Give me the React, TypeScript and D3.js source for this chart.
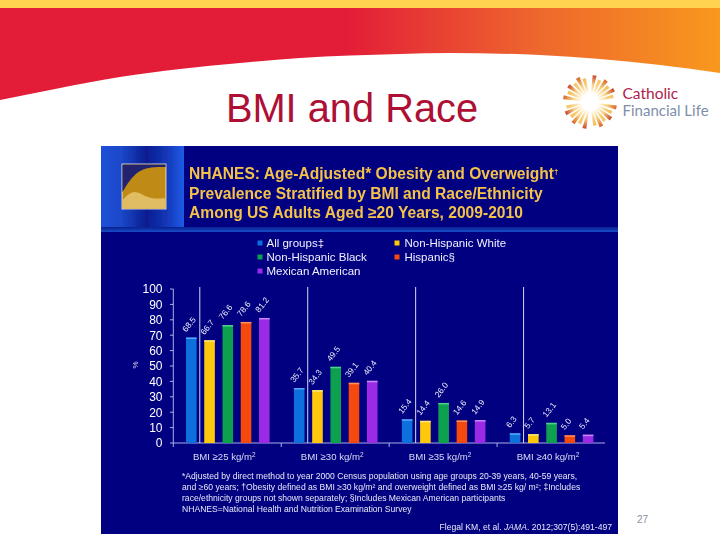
import React from "react";
import * as d3 from "d3";

const categories = ["BMI ≥25 kg/m", "BMI ≥30 kg/m", "BMI ≥35 kg/m", "BMI ≥40 kg/m"];
const seriesNames = ["All groups‡", "Non-Hispanic White", "Non-Hispanic Black", "Hispanic§", "Mexican American"];
const seriesColors = ["#0A6FDC", "#FFC80A", "#0CA050", "#F5480E", "#9A2AE6"];
const capColors = ["#55A8F5", "#FFE680", "#50D090", "#FF9060", "#C888FF"];
const allGroups = [68.5, 35.7, 15.4, 6.3];
const nhWhite = [66.7, 34.3, 14.4, 5.7];
const nhBlack = [76.6, 49.5, 26.0, 13.1];
const hispanic = [78.6, 39.1, 14.6, 5.0];
const mexican = [81.2, 40.4, 14.9, 5.4];
const valueRows = [allGroups, nhWhite, nhBlack, hispanic, mexican];
const valueText = [
  ["68.5", "35.7", "15.4", "6.3"],
  ["66.7", "34.3", "14.4", "5.7"],
  ["76.6", "49.5", "26.0", "13.1"],
  ["78.6", "39.1", "14.6", "5.0"],
  ["81.2", "40.4", "14.9", "5.4"],
];
const yTicks = [0, 10, 20, 30, 40, 50, 60, 70, 80, 90, 100];
const headingLines = [
  "NHANES: Age-Adjusted* Obesity and Overweight",
  "Prevalence Stratified by BMI and Race/Ethnicity",
  "Among US Adults Aged ≥20 Years, 2009-2010",
];
const footnotes = [
  "*Adjusted by direct method to year 2000 Census population using age groups 20-39 years, 40-59 years,",
  "and ≥60 years; †Obesity defined as BMI ≥30 kg/m² and overweight defined as BMI ≥25 kg/ m²; ‡Includes",
  "race/ethnicity groups not shown separately; §Includes Mexican American participants",
  "NHANES=National Health and Nutrition Examination Survey",
];
const curvePts: [number, number][] = [[0, 100], [60, 88], [120, 77], [180, 69], [240, 63], [300, 58], [400, 54], [450, 53], [540, 55], [600, 59], [660, 65], [720, 73]];
const rayAngles = [-80, -66, -53, -40, -27, -14, 10, 24, 37, 50, 63, 76, 102, 116, 129, 142, 155, 168, 192, 206, 219, 232, 245, 258];
const rayTips = ["#D9662A", "#F2B23C", "#C8452C", "#F6C050"];

const F = "'Liberation Sans', Arial, sans-serif";

export default function App() {
  const x = d3.scaleBand<string>().domain(categories).range([173.3, 605]);
  const y = d3.scaleLinear().domain([0, 100]).range([443, 289]);
  const inner = d3.scalePoint<string>().domain(seriesNames).range([18, 91]);
  const barW = 10.6;
  const curve = d3.line().curve(d3.curveMonotoneX)(curvePts)!;
  const wave = d3.line().curve(d3.curveBasis);
  const arc = d3.arc();
  return (
    <svg width={720} height={540} style={{ position: "absolute", left: 0, top: 0, display: "block" }} fontFamily={F}>
      <defs>
        <linearGradient id="band" x1="0" x2="1" y1="0" y2="0">
          <stop offset="0" stopColor="#E31C38" />
          <stop offset="0.48" stopColor="#E31C38" />
          <stop offset="0.75" stopColor="#EE682D" />
          <stop offset="1" stopColor="#F8981D" />
        </linearGradient>
        <linearGradient id="side" x1="0" x2="1" y1="0" y2="0">
          <stop offset="0" stopColor="#1C50D8" />
          <stop offset="0.25" stopColor="#1A48C8" />
          <stop offset="0.55" stopColor="#0A1C90" />
          <stop offset="0.8" stopColor="#1438B8" />
          <stop offset="1" stopColor="#1F5CE6" />
        </linearGradient>
        <linearGradient id="strip" x1="0" x2="0" y1="0" y2="1">
          <stop offset="0" stopColor="#082090" />
          <stop offset="1" stopColor="#1A4CC8" />
        </linearGradient>
        {rayTips.map((c, i) => (
          <radialGradient key={c} id={`ray${i}`} gradientUnits="userSpaceOnUse" cx="0" cy="0" r="27">
            <stop offset="0.35" stopColor="#FFF8E8" />
            <stop offset="0.65" stopColor="#F8D080" />
            <stop offset="1" stopColor={c} />
          </radialGradient>
        ))}
        <filter id="soft" x="-2%" y="-2%" width="104%" height="104%">
          <feGaussianBlur stdDeviation="0.5" />
        </filter>
      </defs>

      <rect width={720} height={540} fill="#fff" />
      <path d={`${curve}L720,0L0,0Z`} fill="url(#band)" />
      <rect width={720} height={8} fill="#FFD350" />
      <text x={352} y={122} textAnchor="middle" fontSize={39.8} fill="#AE1035">BMI and Race</text>

      <g transform="translate(590,102)">
        {rayAngles.map((a, i) => {
          const outer = i % 2 === 0 ? 27 : 24;
          const rad = (a * Math.PI) / 180;
          return (
            <path
              key={a}
              fill={`url(#ray${i % 4})`}
              d={arc({ innerRadius: 9, outerRadius: outer, startAngle: rad - 0.075, endAngle: rad + 0.075 } as any)!}
            />
          );
        })}
      </g>
      <text x={622.5} y={98.5} fontFamily="Lato, sans-serif" fontSize={15.5} fill="#B01C4C">Catholic</text>
      <text x={622.5} y={116} fontFamily="Lato, sans-serif" fontSize={15} fill="#7E8EAA">Financial Life</text>
      <text x={637} y={523} fontSize={10} fill="#8A8FA0">27</text>

      <rect x={101} y={146} width={517} height={388} fill="#000080" />
      <g filter="url(#soft)">
        <rect x={101} y={146} width={83} height={81} fill="url(#side)" />
        <rect x={101} y={227} width={517} height={5} fill="url(#strip)" />
        <rect x={122} y={164} width={44} height={45} fill="#C08A12" stroke="#F4F4F4" strokeWidth={0.8} />
        <path d={`${wave([[122.4, 192], [133, 175], [146, 167], [165.6, 167]])}L165.6,164.4L122.4,164.4Z`} fill="#24246E" />
        <path d={`${wave([[122.4, 200], [133, 189], [146, 197], [155, 199], [165.6, 198]])}L165.6,208.6L122.4,208.6Z`} fill="#E0BC62" />
        {headingLines.map((t, i) => (
          <text key={t} x={189} y={179 + i * 19.6} fontSize={15.6} fontWeight="bold" fill="#F4C24A">
            {t}
            {i === 0 && <tspan dy={-5} fontSize={8}>†</tspan>}
          </text>
        ))}

        {seriesNames.map((s, i) => {
          const cx = i % 2 === 0 ? 260 : 397;
          const tx = i % 2 === 0 ? 266.5 : 404.5;
          const ty = 243 + Math.floor(i / 2) * 14;
          return (
            <g key={s}>
              <rect x={cx - 2.5} y={ty - 2.5} width={5} height={5} fill={seriesColors[i]} />
              <text x={tx} y={ty + 4} fontSize={11.5} fill="#F0F0FF">{s}</text>
            </g>
          );
        })}

        {yTicks.map((t) => (
          <g key={t}>
            <line x1={170} x2={173.3} y1={y(t)} y2={y(t)} stroke="#A8B0E8" />
            <text x={162.5} y={y(t) + 4.3} textAnchor="end" fontSize={12} fill="#fff">{t}</text>
          </g>
        ))}
        <line x1={173.3} x2={173.3} y1={y(100)} y2={y(0)} stroke="#A8B0E8" />
        <line x1={173.3} x2={605} y1={y(0)} y2={y(0)} stroke="#A8B0E8" />
        <text transform="translate(138,365) rotate(-90)" textAnchor="middle" fontSize={8} fill="#D8D8F0">%</text>

        {categories.map((c, ci) => {
          const x0 = x(c)!;
          return (
            <g key={c}>
              <line x1={x0} x2={x0} y1={y(0)} y2={y(0) + 4} stroke="#A8B0E8" />
              <line x1={x0 + 26.5} x2={x0 + 26.5} y1={287} y2={y(0)} stroke="#F0F0FF" strokeWidth={0.9} />
              <text x={x0 + x.bandwidth() / 2 - 3} y={460} textAnchor="middle" fontSize={9.6} fill="#DCDCF4">
                {c}
                <tspan dy={-3} fontSize={6.5}>2</tspan>
              </text>
              {seriesNames.map((s, si) => {
                const cx = x0 + inner(s)!;
                const top = y(valueRows[si][ci]);
                return (
                  <g key={s}>
                    <rect x={cx - barW / 2} y={top} width={barW} height={y(0) - top} fill={seriesColors[si]} />
                    <rect x={cx - barW / 2} y={top} width={barW} height={1.5} fill={capColors[si]} />
                    <text transform={`translate(${cx - 5},${top - 5}) rotate(-52)`} fontSize={8.3} fill="#F0F0FF">
                      {valueText[si][ci]}
                    </text>
                  </g>
                );
              })}
            </g>
          );
        })}

        {footnotes.map((t, i) => (
          <text key={t} x={182} y={479 + i * 11} fontSize={8.6} fill="#E8E8F8">{t}</text>
        ))}
        <text x={612} y={530} textAnchor="end" fontSize={8.6} fill="#E8E8F8">
          Flegal KM, et al. <tspan fontStyle="italic">JAMA</tspan>. 2012;307(5):491-497
        </text>
      </g>
    </svg>
  );
}
